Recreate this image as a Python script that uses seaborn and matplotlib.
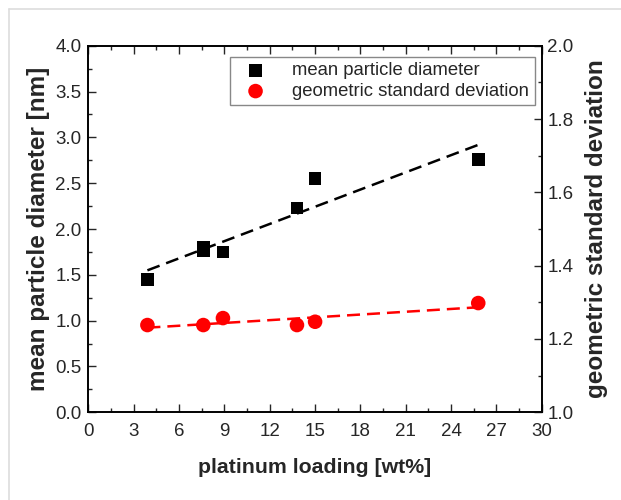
import numpy as np
import pandas as pd
import matplotlib.pyplot as plt
from matplotlib.lines import Line2D
from matplotlib.ticker import MultipleLocator
import seaborn as sns

# data
pt_loading = [3.9, 7.6, 7.6, 8.9, 13.8, 15.0, 25.8]
mean_diam = [1.45, 1.76, 1.80, 1.75, 2.23, 2.55, 2.76]

pt_loading_gsd = [3.9, 7.6, 8.9, 13.8, 15.0, 25.8]
geo_std = [1.238, 1.238, 1.257, 1.238, 1.247, 1.298]

df_d = pd.DataFrame({"x": pt_loading, "y": mean_diam})
df_g = pd.DataFrame({"x": pt_loading_gsd, "y": geo_std})

sns.set_style("ticks")
plt.rcParams["font.family"] = ["Liberation Sans", "DejaVu Sans"]
plt.rcParams["xtick.direction"] = "in"
plt.rcParams["ytick.direction"] = "in"

fig = plt.figure(figsize=(6.21, 5), dpi=100)
ax = fig.add_axes([0.1425, 0.1754, 0.7298, 0.7332])
ax2 = ax.twinx()

# light frame round the picture, only left and top edges show
fx, fy = 9 / 621, 1 - 9 / 500
fig.add_artist(Line2D([fx, fx], [0, fy], transform=fig.transFigure, color="#dddddd", linewidth=1.2))
fig.add_artist(Line2D([fx, 1], [fy, fy], transform=fig.transFigure, color="#dddddd", linewidth=1.2))

dash = (5.2, 2.8)
sns.regplot(data=df_d, x="x", y="y", ax=ax, scatter=False, ci=None, color="black",
            line_kws={"linewidth": 1.8, "dashes": dash})
sns.scatterplot(data=df_d, x="x", y="y", ax=ax, marker="s", s=85, color="black",
                edgecolor="none", label="mean particle diameter", zorder=5)

sns.regplot(data=df_g, x="x", y="y", ax=ax2, scatter=False, ci=None, color="red",
            line_kws={"linewidth": 1.8, "dashes": dash})
sns.scatterplot(data=df_g, x="x", y="y", ax=ax2, marker="o", s=110, color="red",
                edgecolor="none", label="geometric standard deviation", zorder=5)

ax.set_xlim(0, 30)
ax.set_ylim(0, 4.0)
ax2.set_ylim(1.0, 2.0)
ax.xaxis.set_major_locator(MultipleLocator(3))
ax.xaxis.set_minor_locator(MultipleLocator(1.5))
ax.yaxis.set_major_locator(MultipleLocator(0.5))
ax.yaxis.set_minor_locator(MultipleLocator(0.25))
ax2.yaxis.set_major_locator(MultipleLocator(0.2))
ax2.yaxis.set_minor_locator(MultipleLocator(0.1))
ax.yaxis.set_major_formatter(plt.FormatStrFormatter("%.1f"))
ax2.yaxis.set_major_formatter(plt.FormatStrFormatter("%.1f"))

ax.tick_params(axis="x", which="both", top=True, bottom=True)
ax.tick_params(which="major", length=6, width=1, labelsize=13.5, pad=5)
ax.tick_params(axis="x", which="major", pad=8)
ax.tick_params(which="minor", length=3, width=1)
ax.tick_params(axis="y", right=False)
ax2.tick_params(which="major", length=6, width=1, labelsize=13.5, pad=4)
ax2.tick_params(which="minor", length=3, width=1)

for a in (ax, ax2):
    for s in a.spines.values():
        s.set_visible(True)
        s.set_linewidth(1.2)
        s.set_color("black")

ax.set_xlabel("platinum loading [wt%]", fontsize=15.3, fontweight="bold", labelpad=13)
ax.set_ylabel("mean particle diameter [nm]", fontsize=17.5, fontweight="bold", labelpad=4)
ax2.set_ylabel("geometric standard deviation", fontsize=17.5, fontweight="bold", labelpad=8)

h1, l1 = ax.get_legend_handles_labels()
h2, l2 = ax2.get_legend_handles_labels()
if ax2.get_legend():
    ax2.get_legend().remove()
leg = ax.legend(h1 + h2, l1 + l2, loc="upper right", bbox_to_anchor=(0.985, 0.97),
                fontsize=13.3, frameon=True, fancybox=False, edgecolor="#888888",
                framealpha=1, borderpad=0.3, handletextpad=0.9, labelspacing=0.2,
                borderaxespad=0, handlelength=2.2)
leg.get_frame().set_linewidth(1)
leg.set_zorder(10)

fig.savefig("out.png", dpi=100)
